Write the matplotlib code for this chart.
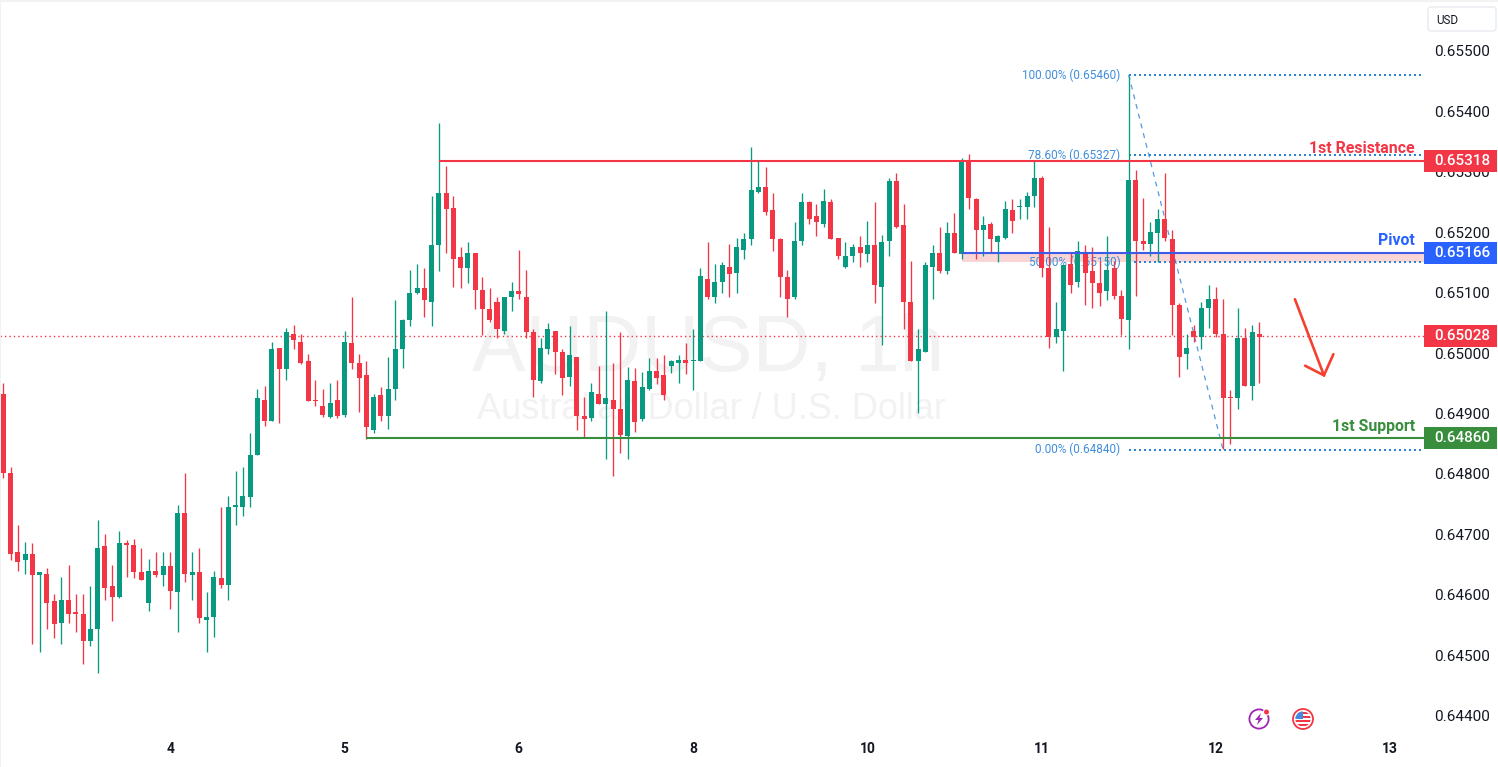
import numpy as np
import matplotlib.pyplot as plt
from matplotlib.patches import Rectangle, Circle, Polygon, FancyBboxPatch

plt.rcParams['font.family'] = ['Roboto', 'DejaVu Sans']

# AUDUSD 1h, prices in 1e-5
opens = [64932,64801,64670,64657,64667,64632,64634,64589,64553,64591,
64572,64569,64523,64543,64680,64614,64597,64685,64682,64637,
64587,64640,64632,64647,64604,64735,64632,64637,64559,64563,
64627,64617,64745,64746,64761,64831,64923,64887,65008,64973,
65032,65018,64986,64923,64912,64894,64922,64897,65017,64983,
64964,64873,64931,64896,64941,65006,65054,65100,65107,65085,
65178,65264,65240,65158,65140,65166,65105,65073,65085,65037,
65092,65102,65093,65035,64954,65007,65037,65001,64961,64994,
64896,64893,64933,64915,64923,64908,64863,64954,64890,64941,
64971,64963,64979,64984,64989,64986,64986,65123,65093,65117,
65143,65133,65171,65189,65267,65275,65237,65189,65125,65093,
65186,65249,65226,65214,65249,65191,65143,65160,65176,65164,
65179,65110,65186,65284,65212,65085,64986,65002,65143,65166,
65136,65198,65164,65317,65255,65204,65214,65184,65191,65237,
65242,65242,65259,65289,65140,65027,65037,65148,65117,65163,
65135,65115,65102,65140,65095,65054,65287,65186,65181,65198,
65221,65188,65080,64998,65036,65026,65075,65090,65032,64927,
64925,65024,64945,65032]
closes = [64802,64668,64655,64667,64632,64637,64587,64551,64591,64569,
64569,64523,64543,64678,64611,64596,64685,64683,64637,64625,
64640,64632,64647,64606,64735,64635,64637,64561,64563,64629,
64617,64746,64748,64764,64832,64925,64887,65006,64973,65034,
65021,64984,64920,64920,64897,64918,64895,65018,64984,64959,
64877,64928,64896,64941,65007,65054,65100,65108,65088,65178,
65265,65239,65156,65140,65166,65105,65072,65054,65039,65092,
65102,65097,65034,64956,65009,65039,65001,64959,64997,64895,
64891,64936,64915,64926,64908,64865,64956,64886,64943,64971,
64959,64930,64986,64989,64984,64989,65128,65092,65118,65145,
65131,65176,65188,65270,65275,65234,65188,65125,65090,65186,
65249,65222,65217,65251,65189,65161,65161,65176,65166,65178,
65112,65184,65284,65209,65085,64987,65007,65145,65166,65136,
65198,65166,65317,65257,65204,65211,65188,65193,65239,65219,
65244,65259,65289,65140,65026,65039,65145,65112,65168,65132,
65115,65099,65138,65095,65056,65287,65185,65181,65201,65221,
65190,65079,64994,65009,65026,65075,65089,65031,64925,64925,
65024,64945,65034,65026]
highs = [64951,64811,64716,64688,64685,64637,64644,64602,64629,64649,
64602,64601,64614,64723,64700,64649,64705,64690,64692,64677,
64659,64670,64670,64670,64748,64801,64670,64678,64604,64640,
64746,64764,64804,64812,64867,64941,64945,65018,65008,65042,
65047,65032,64999,64955,64940,64951,64955,65036,65093,64999,
64987,64933,64944,64994,65087,65057,65138,65148,65140,65260,
65381,65310,65260,65176,65183,65166,65125,65108,65093,65092,
65118,65171,65138,65039,65024,65050,65037,65006,65044,64994,
64928,64951,64979,65070,64984,65034,64977,64976,64969,64991,
64991,64997,64989,64996,65017,65039,65141,65183,65148,65150,
65181,65191,65199,65340,65317,65308,65265,65191,65138,65217,
65265,65252,65246,65272,65255,65191,65183,65181,65193,65219,
65249,65196,65290,65298,65247,65153,65039,65151,65178,65209,
65217,65231,65322,65330,65257,65227,65216,65196,65251,65254,
65255,65267,65317,65292,65208,65085,65145,65165,65185,65178,
65176,65152,65193,65152,65105,65459,65302,65257,65216,65239,
65297,65204,65082,65032,65047,65085,65113,65110,65090,64938,
65075,65041,65046,65052]
lows = [64793,64657,64640,64634,64518,64506,64544,64528,64518,64553,
64538,64485,64516,64470,64591,64556,64594,64630,64627,64624,
64574,64629,64614,64576,64538,64622,64591,64553,64506,64530,
64612,64591,64716,64731,64746,64831,64879,64887,64884,64955,
65006,64981,64920,64912,64894,64892,64892,64894,64974,64903,
64858,64868,64888,64875,64923,64976,65045,65097,65060,65045,
65136,65166,65110,65107,65116,65073,65030,65052,65025,65032,
65070,65090,65024,64928,64951,64999,64966,64931,64946,64872,
64860,64888,64915,64825,64796,64835,64824,64870,64888,64939,
64949,64923,64967,64951,64966,64939,64986,65090,65083,65100,
65092,65100,65155,65179,65265,65229,65168,65093,65060,65090,
65179,65214,65193,65209,65189,65155,65141,65151,65143,65151,
65082,65014,65160,65206,65040,64987,64900,65002,65090,65133,
65131,65166,65155,65239,65155,65161,65166,65151,65188,65198,
65222,65222,65242,65125,65008,65016,64971,65100,65110,65080,
65075,65077,65087,65090,65029,65006,65094,65171,65161,65150,
65186,65029,64960,64973,65019,65006,65042,65027,64841,64849,
64907,64945,64922,64951]

day_bars = [23,47,71,95,119,143,167,191]
day_labels = ['4','5','6','8','10','11','12','13']
price_ticks = [0.655,0.654,0.653,0.652,0.651,0.650,0.649,0.648,0.647,0.646,0.645,0.644]

resistance = 0.65318
pivot = 0.65166
support = 0.64860
last_price = 0.65028
fib_pcts = ['100.00%','78.60%','50.00%','0.00%']
fib_prices = [0.65460,0.65327,0.65150,0.64840]
fib_start_bar = 155
fib_end_bar = 168
resistance_bar = 60
support_bar = 50
pivot_bar = 132

arrow_x = [177.9,181.9]
arrow_y = [0.65089,0.64963]
head_x = [179.3,181.9,183.2]
head_y = [0.64979,0.64963,0.64998]

GREEN = '#089981'
RED = '#F23645'
BLUE = '#2962FF'
SUP = '#388E3C'
FIB = '#2B82D9'
TXT = '#131722'
W, H = 1498, 767

o = np.array(opens)/1e5
c = np.array(closes)/1e5
hi = np.array(highs)/1e5
lo = np.array(lows)/1e5
x = np.arange(len(o))
cols = [GREEN if c[i] >= o[i] else RED for i in x]

fig = plt.figure(figsize=(W/100,H/100),dpi=100,facecolor='white')
ax = fig.add_axes([0,(H-740)/H,1424/W,735/H])
ax.set_xlim(-0.455,195.68)
ax.set_ylim(0.643598,0.655757)
for s in ax.spines.values():
    s.set_visible(False)

# watermark
ax.text(0.4975,0.53,'AUDUSD, 1h',transform=ax.transAxes,ha='center',va='center',
        fontsize=57.7,color='#F2F2F2',zorder=0,family='Liberation Sans')
ax.text(0.4995,0.4495,'Australian Dollar / U.S. Dollar',transform=ax.transAxes,ha='center',va='center',
        fontsize=26,color='#F2F2F2',zorder=0,family='Liberation Sans')

# fib behind the candles
xr = ax.get_xlim()[1]
ax.fill_between([pivot_bar,xr],fib_prices[2],pivot,color='#F9D5D5',lw=0,zorder=1)
for p,lab in zip(fib_prices,fib_pcts):
    ax.hlines(p,fib_start_bar,xr,color=FIB,lw=1.44,linestyle=(0,(1,1.5)),zorder=1)
    ax.annotate('{} ({:.5f})'.format(lab,p),(fib_start_bar,p),xytext=(-6,0),textcoords='offset points',
                ha='right',va='center',fontsize=8.5,color=FIB,alpha=0.9,zorder=1)
ax.plot([fib_start_bar,fib_end_bar],[fib_prices[0],fib_prices[3]],color=FIB,lw=0.9,
        linestyle=(0,(4,4)),alpha=0.8,zorder=1)

ax.hlines(last_price,-0.455,xr,color=RED,lw=1.0,linestyle=(0,(1,2.2)),zorder=1.5)

# candles
ax.vlines(x,lo,hi,colors=cols,lw=0.95,zorder=2)
ax.bar(x,np.abs(c-o),bottom=np.minimum(o,c),width=0.69,color=cols,lw=0,zorder=3)

# levels
ax.hlines(resistance,resistance_bar,xr,color=RED,lw=1.5,zorder=4)
ax.hlines(support,support_bar,xr,color=SUP,lw=1.5,zorder=4)
ax.hlines(pivot,pivot_bar,xr,color='#3D5AE8',lw=1.5,zorder=4)
ax.annotate('1st Resistance',(xr,resistance),xytext=(-6.5,5.5),textcoords='offset points',ha='right',va='baseline',
            fontsize=11.4,color=RED,weight='bold',zorder=5)
ax.annotate('Pivot',(xr,pivot),xytext=(-6.5,5.5),textcoords='offset points',ha='right',va='baseline',
            fontsize=11.4,color=BLUE,weight='bold',zorder=5)
ax.annotate('1st Support',(xr,support),xytext=(-6.5,5),textcoords='offset points',ha='right',va='baseline',
            fontsize=11.4,color=SUP,weight='bold',zorder=5)

# arrow
ax.plot(arrow_x,arrow_y,color='#F6402F',lw=1.9,solid_capstyle='round',zorder=5)
ax.plot(head_x,head_y,color='#F6402F',lw=1.9,solid_capstyle='round',solid_joinstyle='miter',zorder=5)

ax.yaxis.tick_right()
ax.set_yticks(price_ticks)
ax.set_yticklabels(['{:.5f}'.format(p) for p in price_ticks])
ax.tick_params(axis='y',length=0,pad=7.2,labelsize=11,labelcolor=TXT)
ax.set_xticks(day_bars)
ax.set_xticklabels(day_labels,fontweight='bold')
ax.tick_params(axis='x',length=0,pad=1.5,labelsize=10,labelcolor=TXT)

# pixel overlay for the price tags, USD box, icons
ov = fig.add_axes([0,0,1,1],facecolor='none')
ov.set_xlim(0,W)
ov.set_ylim(H,0)
ov.axis('off')
ov.add_patch(Rectangle((0,0),W,2,color='#F2F2F2',lw=0))
ov.add_patch(Rectangle((0,0),1,H,color='#F2F2F2',lw=0))
ov.add_patch(FancyBboxPatch((1428,7),68,24,boxstyle='round,pad=0,rounding_size=3',fc='white',ec='#E6E8EE',lw=0.9))
ov.text(1436,20,'USD',fontsize=8.4,color=TXT,va='center',ha='left')

for p,col in [(resistance,RED),(pivot,BLUE),(last_price,RED),(support,SUP)]:
    yp = H-ax.transData.transform((0,p))[1]
    ov.add_patch(Rectangle((1424,yp-11),73,22,color=col,lw=0))
    ov.text(1434,yp,'{:.5f}'.format(p),fontsize=11,color='white',va='center',ha='left',weight='medium')

# lightning icon
ov.add_patch(Circle((1259,719),9.6,fc='none',ec='#9C27B0',lw=1.3))
ov.add_patch(Polygon([(1261,713),(1255,720),(1258.5,720),(1257,725),(1263,718),(1259.5,718)],fc='#9C27B0',lw=0))
ov.add_patch(Circle((1266.5,712),3.6,fc='white',lw=0))
ov.add_patch(Circle((1266.5,712),2.5,fc=RED,lw=0))

# flag icon
ov.add_patch(Circle((1303,719),10,fc='white',ec=RED,lw=1.3))
clip = Circle((1303,719),7.6,transform=ov.transData)
for i in range(4):
    r = Rectangle((1295,712+i*4),16,2.2,fc=RED,lw=0)
    ov.add_patch(r)
    r.set_clip_path(clip)
r = Rectangle((1295,711),8,8,fc='#3E8BE0',lw=0)
ov.add_patch(r)
r.set_clip_path(clip)

fig.savefig('out.png',dpi=100)
